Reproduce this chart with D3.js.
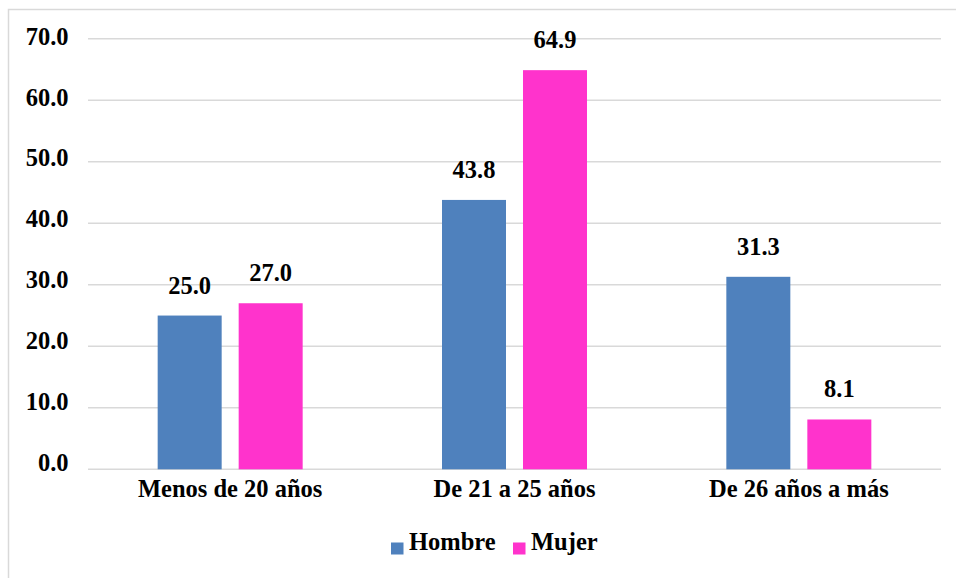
<!DOCTYPE html>
<html>
<head>
<meta charset="utf-8">
<script src="https://cdn.jsdelivr.net/npm/d3@7"></script>
<style>
  html, body { margin: 0; padding: 0; background: #fff; }
  svg { display: block; }
  svg text { font-family: 'Liberation Serif', Tinos, 'Times New Roman', serif !important; font-weight: bold; }
</style>
</head>
<body>
<svg id="chart" width="956" height="578"></svg>
<script>
// Age groups and percentage by sex
const categories = ["Menos de 20 años", "De 21 a 25 años", "De 26 años a más"];
const seriesNames = ["Hombre", "Mujer"];
const hombre = [25.0, 43.8, 31.3];
const mujer = [27.0, 64.9, 8.1];
const yTicks = [0, 10, 20, 30, 40, 50, 60, 70];
const colors = ["#4F81BD", "#FF33CC"];

const FONT = "'Liberation Serif', Tinos, 'Times New Roman', serif";
const FS = "24.5px";

const svg = d3.select("#chart");
const W = 956, H = 578;

function styleText(sel) {
  return sel.attr("font-family", null).attr("font-size", null)
    .style("font-family", FONT).style("font-weight", "bold")
    .style("font-size", FS).style("fill", "#000");
}

// outer frame
svg.append("rect")
  .attr("x", 8.5).attr("y", 9.5)
  .attr("width", W + 10).attr("height", H + 10)
  .attr("fill", "none").attr("stroke", "#d9d9d9").attr("stroke-width", 1.5);

const plot = { left: 88, right: 941, top: 38.8, bottom: 469.3 };

const y = d3.scaleLinear().domain([0, 70]).range([plot.bottom, plot.top]);
// baseline positions for the value-axis labels
const yLabel = d3.scaleLinear().domain([0, 70]).range([470, 44.3]);
const x0 = d3.scaleBand().domain(categories).range([plot.left, plot.right]);
const barW = 64, barGap = 17;
const x1 = d3.scaleOrdinal().domain(seriesNames)
  .range([-(barGap / 2 + barW), barGap / 2]);

// gridlines
svg.append("g").selectAll("line").data(yTicks).join("line")
  .attr("x1", plot.left).attr("x2", plot.right)
  .attr("y1", d => y(d)).attr("y2", d => y(d))
  .attr("stroke", "#d9d9d9").attr("stroke-width", 1.5);

// y axis labels
const yAxis = d3.axisLeft(yLabel).tickValues(yTicks).tickFormat(d3.format(".1f")).tickSize(0).tickPadding(0);
const gy = svg.append("g").attr("transform", `translate(68.5,0)`).call(yAxis);
gy.attr("font-family", null).attr("font-size", null);
gy.select(".domain").remove();
styleText(gy.selectAll("text")).attr("dy", null);

// bars
const rows = categories.map((c, i) => ({ cat: c, vals: [hombre[i], mujer[i]] }));
const groups = svg.append("g").selectAll("g").data(rows).join("g")
  .attr("transform", d => `translate(${x0(d.cat) + x0.bandwidth() / 2},0)`);

const cells = d => d.vals.map((v, j) => ({ key: seriesNames[j], v, j }));

groups.selectAll("rect").data(cells).join("rect")
  .attr("x", d => x1(d.key))
  .attr("width", barW)
  .attr("y", d => y(d.v))
  .attr("height", d => y(0) - y(d.v))
  .attr("fill", d => colors[d.j]);

styleText(groups.selectAll("text.val").data(cells).join("text").attr("class", "val")
  .attr("x", d => x1(d.key) + barW / 2)
  .attr("y", d => y(d.v) - 22)
  .attr("text-anchor", "middle")
  .text(d => d3.format(".1f")(d.v)));

// category labels
const xAxis = d3.axisBottom(x0).tickSize(0).tickPadding(0);
const gx = svg.append("g").attr("transform", `translate(0,497)`).call(xAxis);
gx.attr("font-family", null).attr("font-size", null);
gx.select(".domain").remove();
styleText(gx.selectAll("text")).attr("dy", null).attr("y", 0);

// legend
const legendItems = [
  { name: seriesNames[0], color: colors[0], x: 391 },
  { name: seriesNames[1], color: colors[1], x: 513 }
];
const lg = svg.append("g").selectAll("g").data(legendItems).join("g")
  .attr("transform", d => `translate(${d.x},0)`);
lg.append("rect").attr("x", 0).attr("y", 542.5).attr("width", 12.5).attr("height", 12)
  .attr("fill", d => d.color);
styleText(lg.append("text").attr("x", 18).attr("y", 549.5).text(d => d.name));
</script>
</body>
</html>
